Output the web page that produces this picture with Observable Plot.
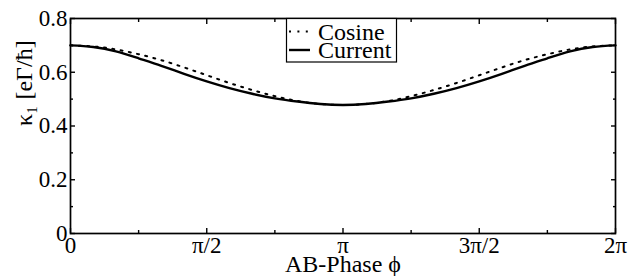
<!DOCTYPE html>
<html><head><meta charset="utf-8">
<script src="https://cdn.jsdelivr.net/npm/d3@7"></script>
<script src="https://cdn.jsdelivr.net/npm/@observablehq/plot@0.6"></script>
<style>body{margin:0;background:#fff} svg{display:block} svg text{font-family:'Liberation Serif','Times New Roman',serif !important}</style>
</head><body><div id="chart"></div>
<script>
const phaseDeg = [0,15,30,45,60,75,90,105,120,135,150,165,180,195,210,225,240,255,270,285,300,315,330,345,360];
const cosine  = [0.700,0.696,0.685,0.667,0.645,0.618,0.589,0.560,0.534,0.511,0.493,0.482,0.478,0.482,0.493,0.511,0.534,0.560,0.589,0.618,0.645,0.667,0.685,0.696,0.700];
const current = [0.700,0.694,0.678,0.652,0.624,0.594,0.566,0.541,0.520,0.503,0.491,0.482,0.478,0.482,0.491,0.503,0.520,0.541,0.566,0.594,0.624,0.652,0.678,0.694,0.700];
const seriesNames = ["Cosine", "Current"];
const xMajorTicks = [0, Math.PI/2, Math.PI, 3*Math.PI/2, 2*Math.PI];
const xTickLabels = ["0", "π/2", "π", "3π/2", "2π"];
const xMinorTicks = [Math.PI/4, 3*Math.PI/4, 5*Math.PI/4, 7*Math.PI/4];
const yMajorTicks = [0, 0.2, 0.4, 0.6, 0.8];
const yTickLabels = ["0", "0.2", "0.4", "0.6", "0.8"];
const yMinorTicks = [0.1, 0.3, 0.5, 0.7];
const xLabel = "AB-Phase ϕ";
const yLabel = "κ₁ [eΓ/ħ]";

const rows = [];
phaseDeg.forEach((d, i) => {
  rows.push({phase: d * Math.PI / 180, value: cosine[i], series: seriesNames[0]});
  rows.push({phase: d * Math.PI / 180, value: current[i], series: seriesNames[1]});
});
const cosRows = rows.filter(r => r.series === seriesNames[0]);
const curRows = rows.filter(r => r.series === seriesNames[1]);

const FONT = "'Liberation Serif', 'Times New Roman', serif";
const blank = () => "";

const chart = Plot.plot({
  width: 631, height: 276,
  marginLeft: 70, marginRight: 16, marginTop: 18, marginBottom: 43,
  style: {fontFamily: FONT, background: "#fff", color: "#000"},
  x: {domain: [0, 2*Math.PI], label: null},
  y: {domain: [0, 0.8], label: null},
  marks: [
    Plot.line(cosRows, {x: "phase", y: "value", stroke: "#000", strokeWidth: 2, strokeDasharray: "2,6.4", curve: "natural"}),
    Plot.line(curRows, {x: "phase", y: "value", stroke: "#000", strokeWidth: 2.4, curve: "natural"}),
    // inward ticks on all four sides
    Plot.axisX(xMajorTicks, {anchor: "bottom", tickSize: -5, tickFormat: blank, label: null, strokeWidth: 1.4}),
    Plot.axisX(xMinorTicks, {anchor: "bottom", tickSize: -3, tickFormat: blank, label: null, strokeWidth: 1.4}),
    Plot.axisX(xMajorTicks, {anchor: "top", tickSize: -5, tickFormat: blank, label: null, strokeWidth: 1.4}),
    Plot.axisX(xMinorTicks, {anchor: "top", tickSize: -3, tickFormat: blank, label: null, strokeWidth: 1.4}),
    Plot.axisY(yMajorTicks, {anchor: "left", tickSize: -5, tickFormat: blank, label: null, strokeWidth: 1.4}),
    Plot.axisY(yMinorTicks, {anchor: "left", tickSize: -3, tickFormat: blank, label: null, strokeWidth: 1.4}),
    Plot.axisY(yMajorTicks, {anchor: "right", tickSize: -5, tickFormat: blank, label: null, strokeWidth: 1.4}),
    Plot.axisY(yMinorTicks, {anchor: "right", tickSize: -3, tickFormat: blank, label: null, strokeWidth: 1.4}),
    // tick labels
    Plot.axisX(xMajorTicks, {anchor: "bottom", tickSize: 0, tickPadding: 3, fontSize: 23, fontFamily: FONT, label: null,
      tickFormat: (d, i) => xTickLabels[i]}),
    Plot.axisY(yMajorTicks, {anchor: "left", tickSize: 0, tickPadding: 3, fontSize: 23, fontFamily: FONT, label: null,
      tickFormat: (d, i) => yTickLabels[i]}),
    Plot.frame({stroke: "#000", strokeWidth: 1.7}),
    Plot.text([xLabel], {frameAnchor: "bottom", dy: 38, lineAnchor: "bottom", fontSize: 24, fontFamily: FONT, fill: "#000"}),
    Plot.text([yLabel], {frameAnchor: "left", dx: -39, rotate: -90, lineAnchor: "bottom", fontSize: 24, fontFamily: FONT, fill: "#000"})
  ]
});
document.getElementById("chart").appendChild(chart);

// legend box inside the plot area
const svg = d3.select(chart);
const lg = svg.append("g").attr("font-family", FONT).attr("font-size", 24).attr("text-anchor", "start");
lg.append("rect").attr("x", 286.5).attr("y", 18.5).attr("width", 110).attr("height", 43.5)
  .attr("fill", "#fff").attr("stroke", "#000").attr("stroke-width", 1.2);
const entries = [
  {name: seriesNames[0], dash: "2,6.4", w: 2, y: 31.5},
  {name: seriesNames[1], dash: null, w: 2.4, y: 50}
];
entries.forEach(e => {
  lg.append("line").attr("x1", 289).attr("x2", 310).attr("y1", e.y).attr("y2", e.y)
    .attr("stroke", "#000").attr("stroke-width", e.w).attr("stroke-dasharray", e.dash);
  lg.append("text").attr("x", 318).attr("y", e.y + 8).attr("text-anchor", "start").attr("fill", "#000").text(e.name);
});
</script>
</body></html>
